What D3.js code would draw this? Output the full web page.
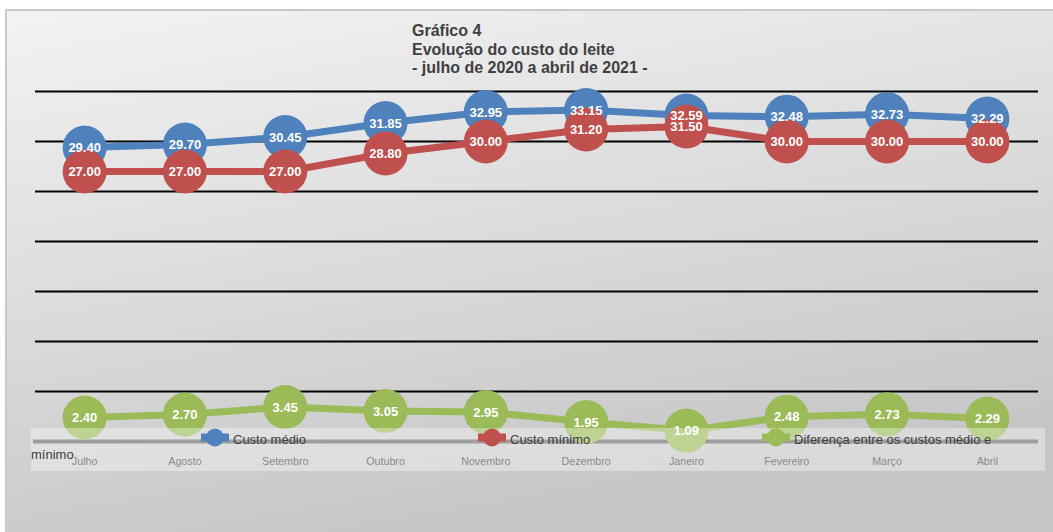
<!DOCTYPE html>
<html><head><meta charset="utf-8">
<script src="https://cdn.jsdelivr.net/npm/d3@7"></script>
<style>html,body{margin:0;padding:0;background:#fff;overflow:hidden}svg{display:block}</style>
</head><body>
<script>
const months = ["Julho","Agosto","Setembro","Outubro","Novembro","Dezembro","Janeiro","Fevereiro","Março","Abril"];
const custoMedio = [29.40,29.70,30.45,31.85,32.95,33.15,32.59,32.48,32.73,32.29];
const custoMinimo = [27.00,27.00,27.00,28.80,30.00,31.20,31.50,30.00,30.00,30.00];
const diferenca = [2.40,2.70,3.45,3.05,2.95,1.95,1.09,2.48,2.73,2.29];
const yTicks = [0,5,10,15,20,25,30,35];
const seriesNames = ["Custo médio","Custo mínimo","Diferença entre os custos médio e"];
const seriesNameWrap = "mínimo";
const titleLines = ["Gráfico 4","Evolução do custo do leite","- julho de 2020 a abril de 2021 -"];

const W=1053,H=532;
const font='"Liberation Sans", Arial, sans-serif';
const svg=d3.select("body").append("svg").attr("width",W).attr("height",H);
const defs=svg.append("defs");
const g=defs.append("linearGradient").attr("id","bg").attr("x1","0").attr("y1","0").attr("x2","0.35").attr("y2","1");
g.append("stop").attr("offset","0").attr("stop-color","#f3f3f3");
g.append("stop").attr("offset","1").attr("stop-color","#c6c6c6");
svg.append("rect").attr("x",6).attr("y",10).attr("width",W).attr("height",H)
  .attr("fill","url(#bg)").attr("stroke","#c9c9c9").attr("stroke-width",2);

// title
const tt=svg.append("text").attr("font-family",font).attr("font-weight","bold").attr("font-size",16).attr("fill","#404040");
titleLines.forEach((t,i)=>tt.append("tspan").attr("x",412).attr("y",36+i*18.5).text(t));

const x=d3.scaleBand().domain(months).range([34.5,1037.5]);
const y=d3.scaleLinear().domain([0,35]).range([441.5,91.5]);

// gridlines
svg.append("g").selectAll("line").data(yTicks.filter(d=>d>0)).join("line")
  .attr("x1",35).attr("x2",1038).attr("y1",d=>y(d)).attr("y2",d=>y(d))
  .attr("stroke","#000").attr("stroke-width",2);
// axis line
svg.append("line").attr("x1",33).attr("x2",1038).attr("y1",y(0)).attr("y2",y(0))
  .attr("stroke","#6a6a6a").attr("stroke-width",4);

const series=[
  {vals:custoMedio,color:"#4f81bd"},
  {vals:custoMinimo,color:"#c0504d"},
  {vals:diferenca,color:"#9bbb59"}
];
const cx=d=>x(d)+x.bandwidth()/2;
const line=d3.line().x((d,i)=>cx(months[i])).y(d=>y(d));
series.forEach(s=>{
  svg.append("path").datum(s.vals).attr("d",line).attr("fill","none")
    .attr("stroke",s.color).attr("stroke-width",7).attr("stroke-linejoin","round");
  svg.append("g").selectAll("circle").data(s.vals).join("circle")
    .attr("cx",(d,i)=>cx(months[i])).attr("cy",d=>y(d)).attr("r",22).attr("fill",s.color);
});
series.forEach(s=>{
  svg.append("g").selectAll("text").data(s.vals).join("text")
    .attr("x",(d,i)=>cx(months[i])).attr("y",d=>y(d)+4.5).attr("text-anchor","middle")
    .attr("font-family",font).attr("font-weight","bold").attr("font-size",13).attr("fill","#fff")
    .text(d=>d.toFixed(2));
});

// legend box
svg.append("rect").attr("x",31).attr("y",428).attr("width",1014).attr("height",43)
  .attr("fill","rgba(255,255,255,0.35)");
const legX=[215,492,776];
series.forEach((s,i)=>{
  const lg=svg.append("g");
  lg.append("line").attr("x1",legX[i]-14).attr("x2",legX[i]+14).attr("y1",437.5).attr("y2",437.5)
    .attr("stroke",s.color).attr("stroke-width",8);
  lg.append("circle").attr("cx",legX[i]).attr("cy",437.5).attr("r",9).attr("fill",s.color);
  lg.append("text").attr("x",legX[i]+18).attr("y",444).attr("font-family",font).attr("font-size",13)
    .attr("fill","#404040").text(seriesNames[i]);
});
svg.append("text").attr("x",31).attr("y",458.5).attr("font-family",font).attr("font-size",13)
  .attr("fill","#404040").text(seriesNameWrap);

// x labels
svg.append("g").selectAll("text").data(months).join("text")
  .attr("x",d=>cx(d)).attr("y",465).attr("text-anchor","middle")
  .attr("font-family",font).attr("font-size",10.7).attr("fill","#8a8a8a").text(d=>d);
</script>
</body></html>
